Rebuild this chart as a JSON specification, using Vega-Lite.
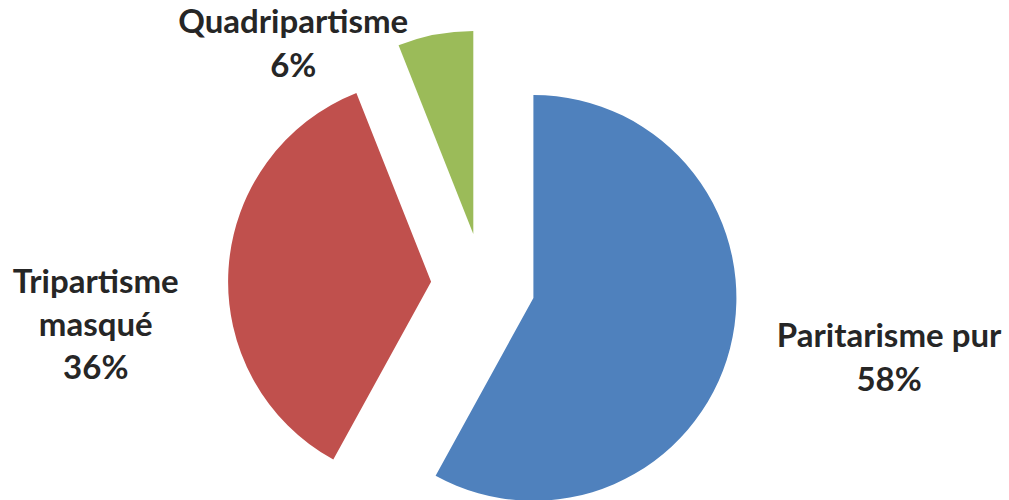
{
  "$schema": "https://vega.github.io/schema/vega-lite/v6.json",
  "width": 966,
  "height": 570,
  "autosize": "none",
  "padding": {"left": 0, "top": 0, "right": 43, "bottom": 0},
  "background": "white",
  "config": {"view": {"stroke": null}},
  "data": {
    "values": [
      {"category": "Paritarisme pur", "label": "Paritarisme pur", "value": 58},
      {"category": "Tripartisme masqué", "label": "Tripartisme\nmasqué", "value": 36},
      {"category": "Quadripartisme", "label": "Quadripartisme", "value": 6}
    ]
  },
  "transform": [
    {"stack": "value", "groupby": [], "sort": [{"field": "value", "order": "descending"}], "as": ["v0", "v1"]},
    {"calculate": "(datum.v0 + datum.v1) / 2", "as": "mid"},
    {"calculate": "datum.label + '\\n' + datum.value + '%'", "as": "text"}
  ],
  "encoding": {
    "color": {
      "field": "category",
      "type": "nominal",
      "scale": {
        "domain": ["Paritarisme pur", "Tripartisme masqué", "Quadripartisme"],
        "range": ["#4F81BD", "#C0504D", "#9BBB59"]
      },
      "legend": null
    }
  },
  "layer": [
    {
      "transform": [{"filter": "datum.category === 'Paritarisme pur'"}],
      "mark": {"type": "arc", "outerRadius": 203, "xOffset": 50.4, "yOffset": 12.9},
      "encoding": {
        "theta": {"field": "v0", "type": "quantitative", "scale": {"domain": [0, 100]}},
        "theta2": {"field": "v1"}
      }
    },
    {
      "transform": [{"filter": "datum.category === 'Tripartisme masqué'"}],
      "mark": {"type": "arc", "outerRadius": 203, "xOffset": -51.9, "yOffset": -3.3},
      "encoding": {
        "theta": {"field": "v0", "type": "quantitative", "scale": {"domain": [0, 100]}},
        "theta2": {"field": "v1"}
      }
    },
    {
      "transform": [{"filter": "datum.category === 'Quadripartisme'"}],
      "mark": {"type": "arc", "outerRadius": 203, "xOffset": -9.7, "yOffset": -51.1},
      "encoding": {
        "theta": {"field": "v0", "type": "quantitative", "scale": {"domain": [0, 100]}},
        "theta2": {"field": "v1"}
      }
    },
    {
      "transform": [{"filter": "datum.category === 'Paritarisme pur'"}],
      "mark": {"type": "text", "radius": 412, "dx": 7, "dy": -50, "font": "Lato", "fontWeight": "bold", "fontSize": 33, "lineHeight": 44, "lineBreak": "\n", "align": "center", "baseline": "middle"},
      "encoding": {
        "theta": {"field": "mid", "type": "quantitative", "scale": {"domain": [0, 100]}},
        "text": {"field": "text"},
        "color": {"value": "#262626"}
      }
    },
    {
      "transform": [{"filter": "datum.category === 'Tripartisme masqué'"}],
      "mark": {"type": "text", "radius": 384, "dx": -4, "dy": 22, "font": "Lato", "fontWeight": "bold", "fontSize": 33, "lineHeight": 43, "lineBreak": "\n", "align": "center", "baseline": "middle"},
      "encoding": {
        "theta": {"field": "mid", "type": "quantitative", "scale": {"domain": [0, 100]}},
        "text": {"field": "text"},
        "color": {"value": "#262626"}
      }
    },
    {
      "transform": [{"filter": "datum.category === 'Quadripartisme'"}],
      "mark": {"type": "text", "radius": 271, "dx": -139, "dy": 4, "font": "Lato", "fontWeight": "bold", "fontSize": 33, "lineHeight": 44, "lineBreak": "\n", "align": "center", "baseline": "middle"},
      "encoding": {
        "theta": {"field": "mid", "type": "quantitative", "scale": {"domain": [0, 100]}},
        "text": {"field": "text"},
        "color": {"value": "#262626"}
      }
    }
  ]
}
